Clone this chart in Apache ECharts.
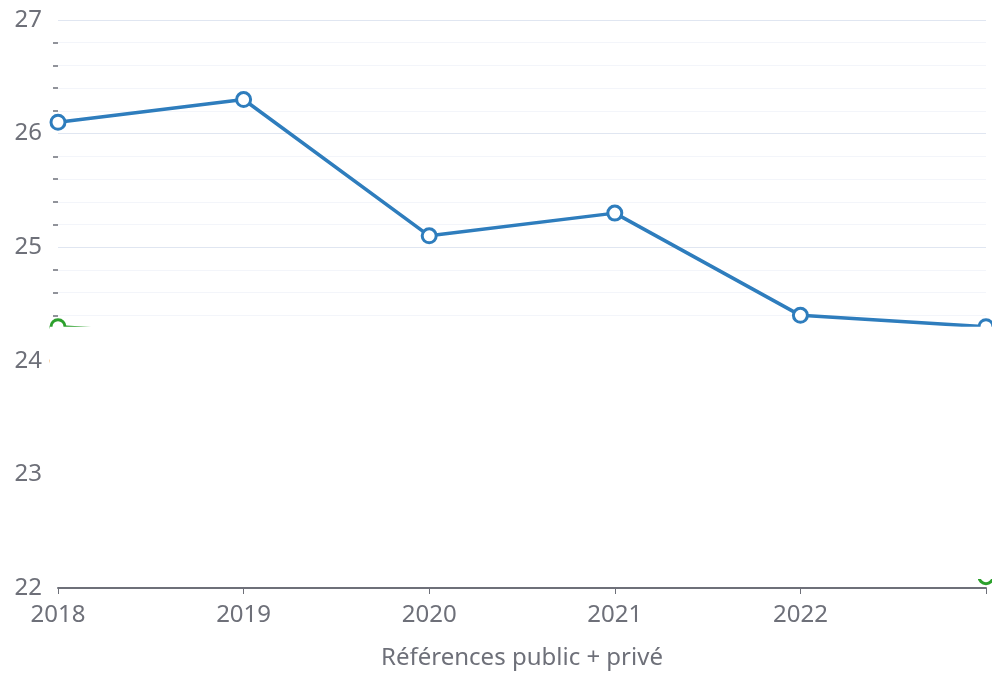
<!DOCTYPE html>
<html>
<head>
<meta charset="utf-8">
<script src="https://cdn.jsdelivr.net/npm/echarts@6/dist/echarts.min.js"></script>
<style>
  html, body { margin: 0; padding: 0; background: #fff; }
  #chart { width: 992px; height: 677px; }
</style>
</head>
<body>
<div id="chart"></div>
<script>
const years = ['2018', '2019', '2020', '2021', '2022', '2023']
const blueValues = [26.1, 26.3, 25.1, 25.3, 24.4, 24.3]
const greenValues = [24.3, 24.2, 23.6, 23.2, 22.6, 22.1]
const orangeValues = [24.0, 23.8, 23.5, 23.1, 22.8, 22.5]
// white band that hides the lower part of the plot
const coverTop = [24.3, 24.3]
const coverBottom = 22.08
const yMin = 22
const yMax = 27

const chart = echarts.init(document.getElementById('chart'))
const textColor = '#6E7079'
const font = "'Noto Sans', sans-serif"

function lineSeries(data, color) {
  return {
    type: 'line',
    data,
    color,
    symbol: 'circle',
    symbolSize: 14,
    lineStyle: { width: 3.5, color },
    itemStyle: { color: '#fff', borderColor: color, borderWidth: 3 },
  }
}

chart.setOption({
  animation: false,
  grid: [
    { left: 58, right: 6, top: 20, bottom: 89 },
    { left: 50, right: 0, top: 20, bottom: 89 },
  ],
  xAxis: [{
    type: 'category',
    data: years,
    boundaryGap: false,
    name: 'Références public + privé',
    nameLocation: 'middle',
    nameGap: 58,
    nameTextStyle: { color: textColor, fontSize: 24, fontFamily: font },
    axisLine: { lineStyle: { color: textColor, width: 2 } },
    axisTick: { show: true, length: 6, lineStyle: { color: textColor } },
    axisLabel: {
      color: textColor,
      fontSize: 24,
      fontFamily: font,
      margin: 15,
      formatter: (v, i) => (i === years.length - 1 ? '' : v),
    },
  }, {
    type: 'category',
    gridIndex: 1,
    data: ['a', 'b'],
    boundaryGap: false,
    show: false,
  }],
  yAxis: [{
    type: 'value',
    min: yMin,
    max: yMax,
    interval: 1,
    axisLine: { show: false },
    axisTick: { show: false },
    axisLabel: { color: textColor, fontSize: 24, fontFamily: font, margin: 16 },
    splitLine: { lineStyle: { color: '#E0E6F1' } },
    minorTick: { show: true, splitNumber: 5, length: 5, lineStyle: { color: textColor, width: 1.5 } },
    minorSplitLine: { show: true, lineStyle: { color: '#F3F5FA' } },
  }, {
    type: 'value',
    gridIndex: 1,
    min: yMin,
    max: yMax,
    show: false,
  }],
  series: [
    lineSeries(orangeValues, '#f39c3c'),
    lineSeries(greenValues, '#2ca02c'),
    lineSeries(blueValues, '#2e7dbd'),
    {
      type: 'line',
      xAxisIndex: 1,
      yAxisIndex: 1,
      data: coverTop,
      z: 10,
      symbol: 'none',
      silent: true,
      lineStyle: { width: 0, color: '#fff' },
      areaStyle: { color: '#fff', opacity: 1, origin: coverBottom },
    },
  ],
})
</script>
</body>
</html>
